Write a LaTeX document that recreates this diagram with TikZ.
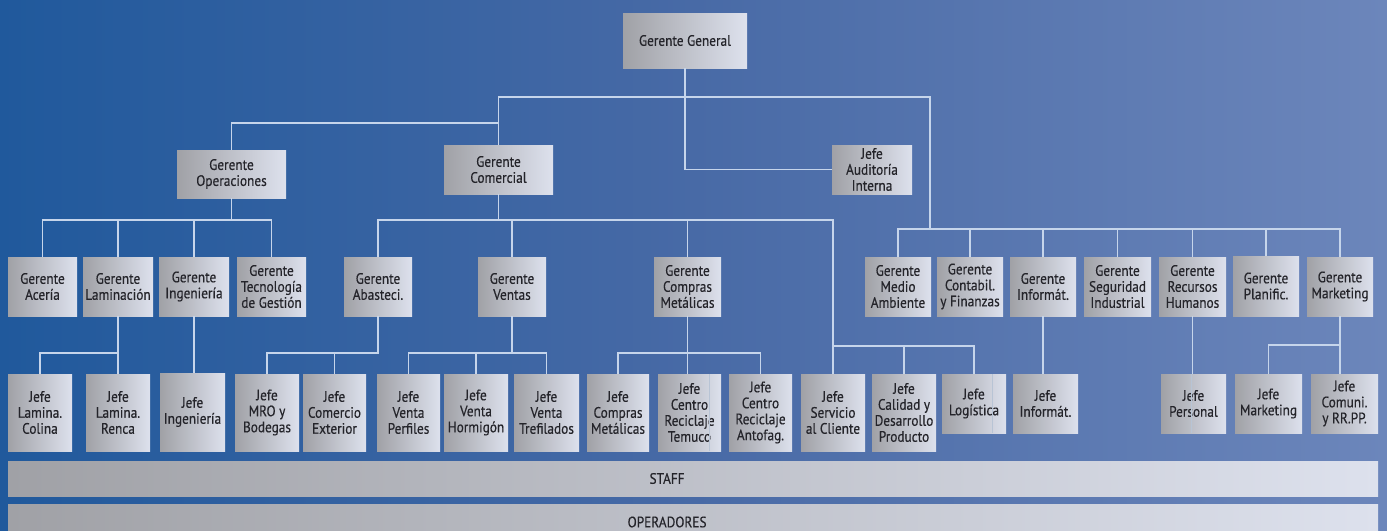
\documentclass[tikz,border=0pt]{standalone}
\usepackage{fontspec}
\setmainfont{PT Sans}[FakeStretch=0.88,FakeBold=0.35]
\definecolor{bgL}{RGB}{32,89,156}
\definecolor{bgM}{RGB}{72,106,166}
\definecolor{bgR}{RGB}{108,134,187}
\definecolor{bxD}{RGB}{160,161,166}
\definecolor{bxL}{RGB}{221,225,237}
\definecolor{lnC}{RGB}{198,213,235}
\definecolor{txC}{RGB}{36,36,42}
\tikzset{
  bx/.style={inner sep=0pt, outer sep=0pt, left color=bxD, right color=bxL, text=txC, align=center,
     font=\fontsize{8.6}{9.1}\selectfont},
  ln/.style={draw=lnC, line width=0.8pt},
  faint/.style={draw=lnC!80!gray, line width=0.5pt}
}
\newcommand\bx[6]{\node[bx, minimum width={(#4-(#2))*0.02cm}, minimum height={(#5-(#3))*0.02cm}] (#1) at ({(#2+#4)/2},{(#3+#5)/2}) {#6};}
\begin{document}
\begin{tikzpicture}[x=0.02cm,y=-0.02cm]
\useasboundingbox (0,0) rectangle (1387,531);
\clip (0,0) rectangle (1387,531);
\shade[left color=bgL, right color=bgR, middle color=bgM] (0,0) rectangle (1387,531);
% level 0-1
\bx{gg}{623}{13}{747}{68}{Gerente General}
\bx{ops}{177}{150}{286}{198}{Gerente\\Operaciones}
\bx{com}{444}{145}{553}{194}{Gerente\\Comercial}
\bx{aud}{832}{145}{912}{194}{Jefe\\Auditoría\\Interna}
% level 2
\bx{ac}{8}{257}{77}{316}{Gerente\\Acería}
\bx{lam}{83}{257}{153}{316}{Gerente\\Laminación}
\bx{ing}{159}{257}{229}{316}{Gerente\\Ingeniería}
\bx{tg}{237}{257}{306}{316}{Gerente\\Tecnología\\de Gestión}
\bx{ab}{344}{257}{412}{316}{Gerente\\Abasteci.}
\bx{ven}{478}{257}{546}{316}{Gerente\\Ventas}
\bx{cm}{654}{257}{721}{316}{Gerente\\Compras\\Metálicas}
\bx{ma}{865}{257}{931}{316}{Gerente\\Medio\\Ambiente}
\bx{cf}{937}{257}{1003}{316}{Gerente\\Contabil.\\y Finanzas}
\bx{inf}{1010}{257}{1076}{316}{Gerente\\Informát.}
\bx{si}{1084}{257}{1151}{316}{Gerente\\Seguridad\\Industrial}
\bx{rh}{1159}{257}{1226}{316}{Gerente\\Recursos\\Humanos}
\bx{pl}{1233}{256}{1299}{316}{Gerente\\Planific.}
\bx{mk}{1307}{257}{1373}{316}{Gerente\\Marketing}
% level 3
\bx{col}{8}{374}{72}{451}{Jefe\\Lamina.\\Colina}
\bx{ren}{86}{374}{150}{451}{Jefe\\Lamina.\\Renca}
\bx{jing}{160}{373}{225}{451}{Jefe\\Ingeniería}
\bx{mro}{235}{374}{299}{451}{Jefe\\MRO y\\Bodegas}
\bx{cex}{303}{374}{366}{451}{Jefe\\Comercio\\Exterior}
\bx{perf}{377}{374}{440}{451}{Jefe\\Venta\\Perfiles}
\bx{horm}{444}{374}{508}{451}{Jefe\\Venta\\Hormigón}
\bx{tref}{514}{374}{579}{451}{Jefe\\Venta\\Trefilados}
\bx{jcm}{587}{374}{649}{451}{Jefe\\Compras\\Metálicas}
\bx{tem}{658}{374}{721}{451}{Jefe\\Centro\\Reciclaje\\Temuco}
\bx{ant}{729}{374}{792}{451}{Jefe\\Centro\\Reciclaje\\Antofag.}
\bx{srv}{801}{374}{865}{451}{Jefe\\Servicio\\al Cliente}
\bx{cal}{872}{374}{936}{451}{Jefe\\Calidad y\\Desarrollo\\Producto}
\bx{log}{942}{374}{1006}{433}{Jefe\\Logística}
\bx{jinf}{1013}{374}{1078}{433}{Jefe\\Informát.}
\bx{per}{1161}{374}{1226}{433}{Jefe\\Personal}
\bx{jmk}{1235}{374}{1302}{433}{Jefe\\Marketing}
\bx{jcom}{1311}{374}{1378}{433}{Jefe\\Comuni.\\y RR.PP.}
% bars
\bx{staff}{8}{461}{1378}{496}{\hspace*{-29.5pt}STAFF}
\bx{oper}{8}{504}{1378}{540}{\hspace*{-29.5pt}OPERADORES}
% faint lines inside boxes
\draw[faint] (709,374) -- (709,451);
\draw[faint] (992,374) -- (992,433);
\draw[faint] (1191,374) -- (1191,433);
% bus coordinates
\coordinate (bT) at (0,97);
\coordinate (bO) at (0,123);
\coordinate (bR) at (0,229);
\coordinate (b2) at (0,220);
\coordinate (b3) at (0,346);
\coordinate (b4) at (0,353);
\coordinate (b5) at (0,345);
\coordinate (rt) at (930,97);
% top level
\draw[ln] (gg.south) |- (aud.west);
\draw[ln] (com.north) |- (gg.south |- bT) -- (rt) -- (rt |- bR);
\draw[ln] (ops.north) |- (com.north |- bO);
% right managers
\draw[ln] (ma.north) |- (mk.north |- bR) -- (mk.north);
\foreach \n in {cf,inf,si,rh,pl} \draw[ln] (\n.north) -- (\n.north |- bR);
% operaciones
\draw[ln] (ops.south) -- (ops.south |- b2);
\draw[ln] (ac.north) |- (tg.north |- b2) -- (tg.north);
\draw[ln] (lam.north) -- (lam.north |- b2);
\draw[ln] (ing.north) -- (ing.north |- b2);
% comercial
\draw[ln] (com.south) -- (com.south |- b2);
\draw[ln] (ab.north) |- (srv.north |- b2) -- (srv.north);
\draw[ln] (ven.north) -- (ven.north |- b2);
\draw[ln] (cm.north) -- (cm.north |- b2);
\draw[ln] (srv.north |- b3) -| (log.north);
\draw[ln] (cal.north) -- (cal.north |- b3);
% level 3
\draw[ln] (lam.south) -- (ren.north);
\draw[ln] (col.north) |- (ren.north |- b4);
\draw[ln] (ing.south) -- (ing.south |- jing.north);
\draw[ln] (ab.south) |- (mro.north |- b4) -- (mro.north);
\draw[ln] (cex.north) -- (cex.north |- b4);
\draw[ln] (ven.south) -- (ven.south |- b4);
\draw[ln] (perf.north) |- (tref.north |- b4) -- (tref.north);
\draw[ln] (horm.north) -- (horm.north |- b4);
\draw[ln] (cm.south) -- (cm.south |- tem.north);
\draw[ln] (jcm.north) |- (ant.north |- b4) -- (ant.north);
\draw[ln] (inf.south) -- (inf.south |- jinf.north);
\draw[ln] (rh.south) -- (rh.south |- per.north);
\draw[ln] (mk.south) -- (mk.south |- jcom.north);
\draw[ln] (jmk.north) |- (mk.south |- b5);
\end{tikzpicture}
\end{document}
